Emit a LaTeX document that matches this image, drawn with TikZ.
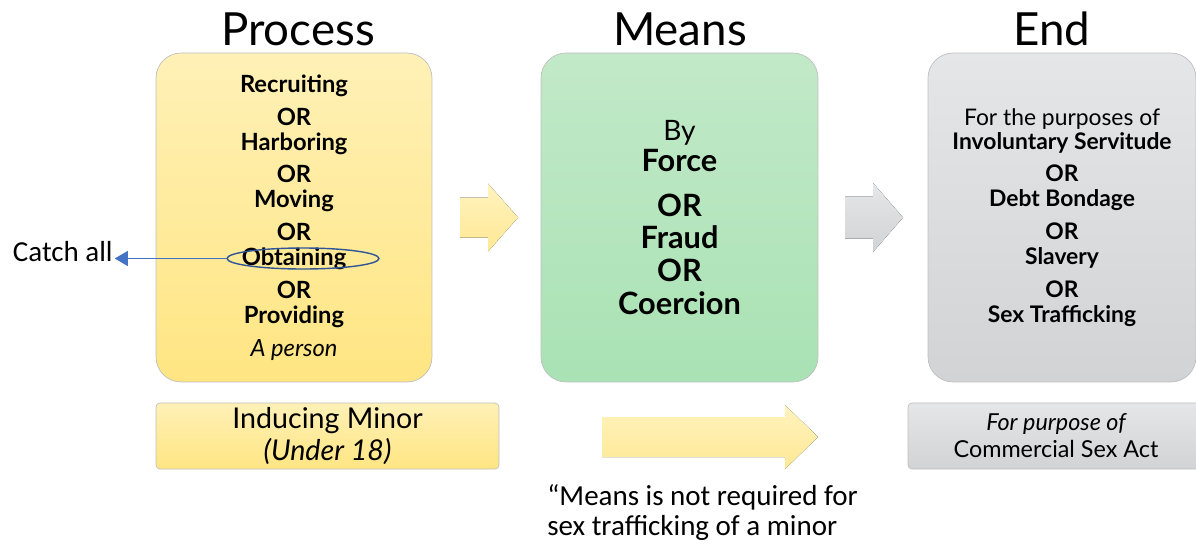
\documentclass[tikz,border=0pt]{standalone}
\usepackage{fontspec}
\setmainfont{Lato}
\newfontfamily\calibri{Carlito}
\usetikzlibrary{arrows.meta}
\usetikzlibrary{shapes.geometric}
\definecolor{procTop}{HTML}{FFF1B7}
\definecolor{procBot}{HTML}{FFE582}
\definecolor{meansTop}{HTML}{C2E9C8}
\definecolor{meansBot}{HTML}{A9E2B4}
\definecolor{endTop}{HTML}{E5E6E7}
\definecolor{endBot}{HTML}{D2D3D5}
\definecolor{catchBlue}{HTML}{4472C4}
\definecolor{ringBlue}{HTML}{2F5597}
\tikzstyle{stagebox}=[rounded corners=0.5cm,draw=black!25,minimum height=6.58cm,align=center,inner sep=0pt]
\tikzstyle{notebox}=[rounded corners=0.08cm,draw=black!25,minimum height=1.32cm,align=center,inner sep=0pt]
\tikzstyle{heading}=[anchor=base,inner sep=0pt,font=\fontsize{26}{30}\selectfont]
\tikzstyle{yellowarrow}=[top color=procTop!90!white,bottom color=procBot!85!white]
\tikzstyle{grayarrow}=[top color=endTop,bottom color=endBot]
\newcommand{\drawblockarrow}[7]{
\pgfmathsetmacro{\xa}{#1}
\pgfmathsetmacro{\xb}{#2}
\pgfmathsetmacro{\ym}{#3}
\pgfmathsetmacro{\shafthalf}{#4}
\pgfmathsetmacro{\headhalf}{#5}
\pgfmathsetmacro{\xh}{#2-#6}
\fill[#7] (\xa,\ym-\shafthalf) -- (\xh,\ym-\shafthalf) -- (\xh,\ym-\headhalf) -- (\xb,\ym)
  -- (\xh,\ym+\headhalf) -- (\xh,\ym+\shafthalf) -- (\xa,\ym+\shafthalf) -- cycle;
}

\begin{document}
\begin{tikzpicture}[x=0.02cm,y=-0.02cm]
	\useasboundingbox (0,0) rectangle (1196,548);
	% column headings
	\node[heading] (process) at (298,45) {Process};
	\node[heading] (means) at (680,45) {Means};
	\node[heading] (end) at (1052,45) {End};
	% the three stages
	\node[stagebox,minimum width=5.52cm,top color=procTop,bottom color=procBot,
	  font=\bfseries\fontsize{13.5}{14.2}\selectfont] (procbox) at (294,217.5)
	  {Recruiting\\[4.5pt] OR\\ Harboring\\[4.5pt] OR\\ Moving\\[4.5pt] OR\\ Obtaining\\[4.5pt] OR\\ Providing\\[4.5pt]
	   {\mdseries\itshape A person}};
	\node[stagebox,minimum width=5.54cm,top color=meansTop,bottom color=meansBot,
	  font=\bfseries\fontsize{17.5}{18.7}\selectfont] (meansbox) at (679.5,217.5)
	  {{\mdseries\fontsize{16}{18.7}\selectfont By}\\[-1pt] Force\\[6.8pt] OR\\ Fraud\\ OR\\ Coercion};
	\node[stagebox,minimum width=5.36cm,top color=endTop,bottom color=endBot,
	  font=\bfseries\fontsize{13}{14.2}\selectfont] (endbox) at (1062,217.5)
	  {{\mdseries For the purposes of}\\[-0.6pt] Involuntary Servitude\\[4.5pt] OR\\ Debt Bondage\\[4.5pt] OR\\ Slavery\\[4.5pt] OR\\ Sex Trafficking};
	% arrows between the stages
	\drawblockarrow{460}{518}{217.5}{20}{34}{30}{yellowarrow}
	\drawblockarrow{845}{903}{217.5}{21}{34.5}{30}{grayarrow}
	% minors
	\node[notebox,minimum width=6.86cm,top color=procTop,bottom color=procBot,
	  font=\fontsize{16.3}{18}\selectfont] (minorbox) at (327.5,436)
	  {Inducing Minor\\ {\itshape (Under 18)}};
	\drawblockarrow{602}{818}{437}{20}{32}{33}{yellowarrow}
	\node[notebox,minimum width=5.92cm,top color=endTop,bottom color=endBot,
	  font=\fontsize{13.3}{15.3}\selectfont] (sexactbox) at (1056,436)
	  {{\itshape For purpose of}\\ Commercial Sex Act};
	\node[anchor=base west,align=left,inner sep=0pt,font=\calibri\fontsize{16.5}{16.7}\selectfont] (quote) at (547,535)
	  {“Means is not required for\\ sex trafficking of a minor};
	% catch all
	\node[draw=ringBlue,line width=0.8pt,ellipse,minimum width=3.04cm,minimum height=0.42cm,inner sep=0pt] (obt) at (303,258.5) {};
	\node[anchor=base east,inner sep=0pt,font=\calibri\fontsize{16.5}{18}\selectfont] (catch) at (113,261) {Catch all};
	\draw[catchBlue,line width=0.6pt,-{Triangle[length=7.4pt,width=8.5pt]},shorten >=1pt] (obt.west) -- (obt.west -| catch.east);
\end{tikzpicture}
\end{document}
